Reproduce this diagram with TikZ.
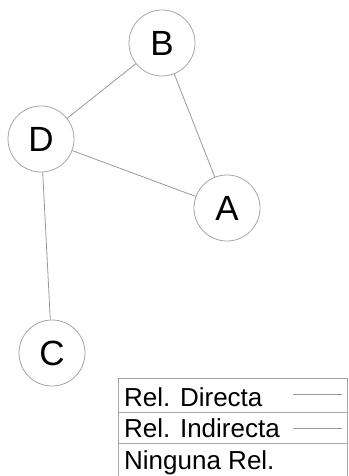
\documentclass[tikz,border=0pt]{standalone}
\usepackage{fontspec}
\setmainfont{Liberation Sans}
\begin{document}
\begin{tikzpicture}[x=1pt,y=-1pt]
\def\rad{33pt}
\tikzset{base/.style={draw=gray!70,line width=0.8pt},
nodo/.style={base,circle,fill=white,minimum size=2*\rad,inner sep=0pt,font=\fontsize{35}{35}\selectfont},
rel/.style={draw=gray!80,line width=0.8pt},
leyenda/.style={anchor=base west,inner sep=0pt,font=\fontsize{26}{26}\selectfont}}
\useasboundingbox (0,0) rectangle (348,476);
\node[nodo] at (162,43) (B) {B};
\node[nodo] at (41,139) (D) {D};
\node[nodo] at (227,208) (A) {A};
\node[nodo] at (52,353) (C) {C};
\path[rel] (B) -- (D);
\path[rel] (B) -- (A);
\path[rel] (D) -- (A);
\path[rel] (D) -- (C);
% leyenda
\draw[base] (118,476) -- (118,378) -- (347,378) -- (347,476);
\draw[base] (118,412) -- (347,412);
\draw[base] (118,443) -- (347,443);
\node[leyenda] at (124,406) (L1) {Rel. Directa};
\node[leyenda] at (124,437) (L2) {Rel. Indirecta};
\node[leyenda] at (124,469) (L3) {Ninguna Rel.};
\coordinate (d1) at (293,394); \coordinate (d2) at (342,394);
\coordinate (i1) at (293,428); \coordinate (i2) at (342,428);
\path[rel] (d1) -- (d2);
\path[rel] (i1) -- (i2);
\end{tikzpicture}
\end{document}
